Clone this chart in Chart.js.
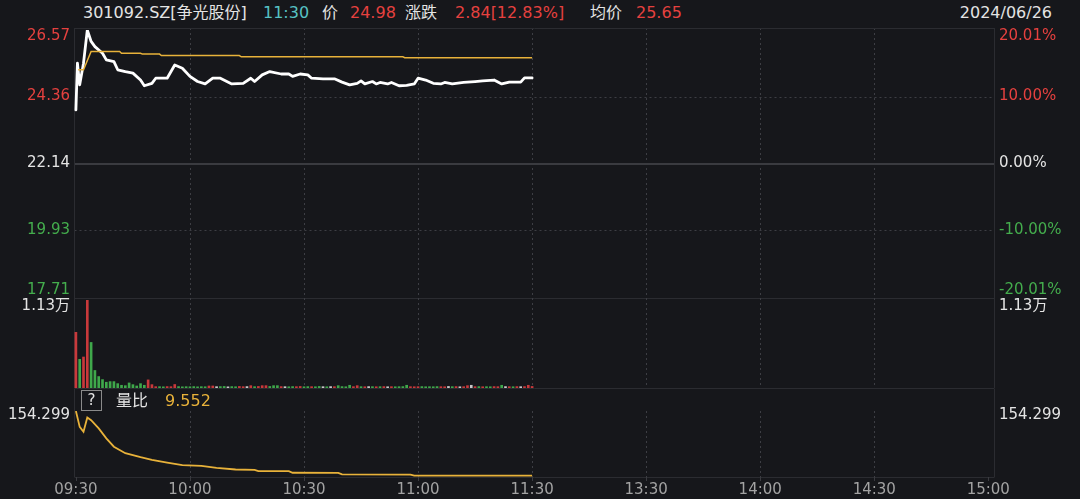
<!DOCTYPE html>
<html lang="zh-CN">
<head>
<meta charset="UTF-8">
<title>301092.SZ 争光股份 分时</title>
<script src="https://cdn.jsdelivr.net/npm/chart.js"></script>
<style>
    * { margin: 0; padding: 0; box-sizing: border-box; }
    body {
        width: 1080px; height: 499px; overflow: hidden; position: relative;
        background: #16171b;
        font-family: "DejaVu Sans", "Noto Sans CJK SC", sans-serif;
    }
    .hd { position: absolute; top: 3px; font-size: 16px; line-height: 20px; white-space: nowrap; color: #e4e4e4; }
    .red { color: #e5413f; }
    .teal { color: #56c2c4; }
    .yel { color: #e8b23a; }
    .qbox {
        position: absolute; left: 81px; top: 390px; width: 21px; height: 21px;
        border: 1.5px solid #8a8a8a; color: #e4e4e4; font-size: 15px;
        line-height: 18px; text-align: center;
    }
    canvas { position: absolute; left: 0; }
</style>
</head>
<body>
    <div class="hd" style="left:83px">301092.SZ[争光股份]</div>
    <div class="hd teal" style="left:263px">11:30</div>
    <div class="hd" style="left:322px">价</div>
    <div class="hd red" style="left:350px">24.98</div>
    <div class="hd" style="left:405px">涨跌</div>
    <div class="hd red" style="left:455px">2.84[12.83%]</div>
    <div class="hd" style="left:590px">均价</div>
    <div class="hd red" style="left:636px">25.65</div>
    <div class="hd" style="right:28px">2024/06/26</div>

    <canvas id="priceChart" width="1080" height="300" style="top:0"></canvas>
    <canvas id="volChart" width="1080" height="92" style="top:298px"></canvas>
    <canvas id="ratioChart" width="1080" height="111" style="top:388px"></canvas>

    <div class="qbox">?</div>
    <div class="hd" style="left:116px; top:391px">量比</div>
    <div class="hd yel" style="left:165px; top:391px">9.552</div>

<script>
// minutes after 09:30 (lunch break skipped, 120 = 11:30/13:00)
const priceTime = [0, 0.4, 1, 2, 3, 4, 5, 7, 8, 10, 11, 13, 15, 17, 18, 20, 21, 24, 26, 28,
    30, 32, 34, 36, 38, 41, 44, 46, 47, 49, 51, 54, 56, 57, 59, 61, 62, 65, 68, 70,
    72, 74, 75, 76, 78, 79, 80, 82, 83, 85, 87, 89, 90, 92, 94, 96, 97, 99, 102, 105,
    107, 110, 112, 114, 117, 118, 120];
const priceValue = [23.92, 25.47, 24.75, 25.47, 26.57, 26.19, 26.02, 25.80, 25.58, 25.52, 25.25, 25.19, 25.14, 24.91, 24.72, 24.80, 24.97, 24.97, 25.41, 25.30,
    25.03, 24.86, 24.78, 24.97, 24.97, 24.78, 24.80, 24.97, 24.86, 25.08, 25.19, 25.11, 25.11, 25.03, 25.11, 25.08, 24.97, 24.95, 24.95, 24.84,
    24.75, 24.80, 24.88, 24.78, 24.86, 24.78, 24.83, 24.78, 24.83, 24.72, 24.73, 24.78, 24.97, 24.91, 24.80, 24.78, 24.83, 24.78, 24.83, 24.86,
    24.88, 24.91, 24.78, 24.84, 24.84, 24.98, 24.98];

const avgTime = [0.6, 2, 4, 11.5, 12, 17, 17.5, 22, 22.5, 43, 43.5, 86, 86.5, 120];
const avgValue = [25.25, 25.25, 25.86, 25.86, 25.80, 25.80, 25.77, 25.77, 25.72, 25.72, 25.68, 25.68, 25.65, 25.65];

// volume per minute, m0..m120
const volume = [7150, 3680, 3980, 11300, 5850, 2250, 1470, 1080, 740, 820,
    820, 560, 350, 300, 650, 430, 260, 560, 350, 1040,
    430, 170, 170, 150, 180, 170, 450, 180, 150, 170,
    160, 180, 150, 170, 160, 260, 260, 170, 180, 200,
    150, 180, 160, 200, 170, 180, 300, 170, 200, 300,
    300, 200, 300, 300, 180, 170, 160, 180, 170, 200,
    160, 180, 170, 160, 200, 170, 160, 180, 170, 300,
    180, 160, 350, 170, 300, 170, 160, 180, 170, 160,
    170, 180, 160, 170, 160, 170, 180, 350, 170, 160,
    170, 180, 160, 170, 160, 180, 170, 160, 200, 170,
    180, 160, 170, 300, 350, 170, 180, 160, 170, 160,
    180, 170, 350, 180, 170, 160, 180, 170, 180, 350,
    200];
// r = up, g = down, w = flat
const volumeDir = "rgrrgggggg" + "gggggggggr" + "rrggrrrggg" + "gggggrrwgg" + "wggrrwrgrr" +
    "rgggrwggrr" + "ggrggwgwrg" + "gggrrgrwgr" + "grwrggggrr" + "rgggggrrwg" +
    "rwrrwrgrgg" + "rrgwrgrwrr" + "r";

const ratioTime = [0, 1, 2, 3, 4, 6, 8, 10, 13, 17, 20, 24, 28, 33, 37, 42, 47, 48, 56, 57, 69, 70, 88, 89, 120];
const ratioValue = [154.299, 118.8, 107.7, 139.7, 133.7, 115.3, 93.1, 74.5, 59.9, 51.0, 45.0, 39.0, 33.2, 31.7, 27.3, 23.5, 22.8, 19.9, 19.6, 16.2, 16.0, 12.4, 12.2, 9.6, 9.552];

const priceTicks = [26.57, 24.36, 22.14, 19.93, 17.71];
const pctTicks = ['20.01%', '10.00%', '0.00%', '-10.00%', '-20.01%'];
const preClose = 22.14;
const volTop = 11300, volTopLabel = '1.13万';
const ratioTop = 154.299, ratioTopLabel = '154.299';
const timeTicks = [0, 30, 60, 90, 120, 150, 180, 210, 240];
const timeLabels = ['09:30', '10:00', '10:30', '11:00', '11:30', '13:30', '14:00', '14:30', '15:00'];

const RED = '#e5413f', GREEN = '#44ad4d', WHITE = '#e4e4e4', YELLOW = '#e8b23a';
const FONT = '15px "DejaVu Sans", "Noto Sans CJK SC", sans-serif';

function priceColor(v) {
    if (v > preClose) return RED;
    if (v < preClose) return GREEN;
    return WHITE;
}

// grid, frame and axis texts, all placed through the chart's own scales
const panelPlugin = {
    id: 'panel',
    beforeDatasetsDraw(chart, args, o) {
        const { ctx, chartArea: a, scales: { x, y } } = chart;
        const L = 74.5, R = 994.5;
        ctx.save();
        ctx.lineWidth = 1;
        ctx.strokeStyle = '#3d3e44';
        ctx.setLineDash([2, 3]);
        timeTicks.slice(1, -1).forEach(t => {
            const px = Math.round(x.getPixelForValue(t)) + 0.5;
            ctx.beginPath(); ctx.moveTo(px, o.gridTop); ctx.lineTo(px, o.frameBottom); ctx.stroke();
        });
        (o.hDots || []).forEach(v => {
            const py = Math.round(y.getPixelForValue(v)) + 0.5;
            ctx.beginPath(); ctx.moveTo(L, py); ctx.lineTo(R, py); ctx.stroke();
        });
        ctx.setLineDash([]);
        (o.hSolid || []).forEach(v => {
            const py = Math.round(y.getPixelForValue(v));
            ctx.strokeStyle = '#3a3b40'; ctx.lineWidth = 2;
            ctx.beginPath(); ctx.moveTo(L, py); ctx.lineTo(R, py); ctx.stroke();
        });
        ctx.strokeStyle = '#2b2c31'; ctx.lineWidth = 1;
        ctx.beginPath();
        ctx.moveTo(L, o.frameTop); ctx.lineTo(L, o.frameBottom);
        ctx.moveTo(R, o.frameTop); ctx.lineTo(R, o.frameBottom);
        ctx.moveTo(L, o.frameBottom + 0.5); ctx.lineTo(R, o.frameBottom + 0.5);
        if (o.drawTop) { ctx.moveTo(L, o.frameTop + 0.5); ctx.lineTo(R, o.frameTop + 0.5); }
        ctx.stroke();
        ctx.restore();
    },
    afterDraw(chart, args, o) {
        const { ctx, chartArea: a, scales: { x, y } } = chart;
        ctx.save();
        ctx.font = FONT;
        ctx.textBaseline = 'middle';
        const m = o.margin || 6;
        const place = v => Math.min(Math.max(y.getPixelForValue(v), a.top + m), a.bottom - m);
        (o.left || []).forEach(l => {
            ctx.fillStyle = l.c; ctx.textAlign = 'right';
            ctx.fillText(l.t, 70, place(l.v));
        });
        (o.right || []).forEach(l => {
            ctx.fillStyle = l.c; ctx.textAlign = 'left';
            ctx.fillText(l.t, 999, place(l.v));
        });
        if (o.timeAxis) {
            ctx.fillStyle = '#a3a3a3'; ctx.textAlign = 'center';
            ctx.strokeStyle = '#3a3b40'; ctx.lineWidth = 1;
            timeTicks.forEach((t, i) => {
                const px = x.getPixelForValue(t);
                ctx.beginPath(); ctx.moveTo(Math.round(px) + 0.5, a.bottom); ctx.lineTo(Math.round(px) + 0.5, a.bottom + 4); ctx.stroke();
                ctx.fillText(timeLabels[i], px, a.bottom + 13);
            });
        }
        ctx.restore();
    }
};

// same time axis for all three panels (no bar offset)
const xScale = () => ({ type: 'linear', min: -0.5, max: 241.5, offset: false, grid: { offset: false }, display: false });
const pad = { left: 74, right: 86 };
const baseOpts = {
    responsive: false, animation: false, devicePixelRatio: 1,
    plugins: { legend: { display: false }, tooltip: { enabled: false } },
    elements: { point: { radius: 0 }, line: { tension: 0 } }
};

new Chart(document.getElementById('priceChart'), {
    type: 'line',
    data: {
        datasets: [
            {
                label: '均价',
                data: avgTime.map((t, i) => ({ x: t, y: avgValue[i] })),
                borderColor: YELLOW, borderWidth: 1.5
            },
            {
                label: '价格',
                data: priceTime.map((t, i) => ({ x: t, y: priceValue[i] })),
                borderColor: '#ffffff', borderWidth: 2.8,
                borderJoinStyle: 'round', borderCapStyle: 'round'
            }
        ]
    },
    options: {
        ...baseOpts,
        layout: { padding: { ...pad, top: 30, bottom: 3 } },
        scales: { x: xScale(), y: { min: 17.71, max: 26.57, display: false } },
        plugins: {
            ...baseOpts.plugins,
            panel: {
                gridTop: 28, frameTop: 28, frameBottom: 298, drawTop: true,
                hDots: [priceTicks[1], priceTicks[3]], hSolid: [preClose],
                margin: 6.5,
                left: priceTicks.map(v => ({ v, t: v.toFixed(2), c: priceColor(v) })),
                right: priceTicks.map((v, i) => ({ v, t: pctTicks[i], c: priceColor(v) }))
            }
        }
    },
    plugins: [panelPlugin]
});

const barColors = { r: '#c9393b', g: '#3fa84b', w: '#c8c8c8' };
new Chart(document.getElementById('volChart'), {
    type: 'bar',
    data: {
        datasets: [{
            label: '成交量',
            data: volume.map((v, i) => ({ x: i, y: v })),
            backgroundColor: volume.map((v, i) => barColors[volumeDir[i]]),
            barThickness: 2
        }]
    },
    options: {
        ...baseOpts,
        layout: { padding: { ...pad, top: 2, bottom: 2 } },
        scales: { x: xScale(), y: { min: 0, max: volTop, display: false } },
        plugins: {
            ...baseOpts.plugins,
            panel: {
                gridTop: 0, frameTop: 0, frameBottom: 90,
                margin: 6.5,
                left: [{ v: volTop, t: volTopLabel, c: WHITE }],
                right: [{ v: volTop, t: volTopLabel, c: WHITE }]
            }
        }
    },
    plugins: [panelPlugin]
});

new Chart(document.getElementById('ratioChart'), {
    type: 'line',
    data: {
        datasets: [{
            label: '量比',
            data: ratioTime.map((t, i) => ({ x: t, y: ratioValue[i] })),
            borderColor: YELLOW, borderWidth: 1.8
        }]
    },
    options: {
        ...baseOpts,
        layout: { padding: { ...pad, top: 23, bottom: 22 } },
        scales: { x: xScale(), y: { min: 6.67, max: ratioTop, display: false } },
        plugins: {
            ...baseOpts.plugins,
            panel: {
                gridTop: 23, frameTop: 1, frameBottom: 89,
                margin: 4.5,
                left: [{ v: ratioTop, t: ratioTopLabel, c: WHITE }],
                right: [{ v: ratioTop, t: ratioTopLabel, c: WHITE }],
                timeAxis: true
            }
        }
    },
    plugins: [panelPlugin]
});
</script>
</body>
</html>
